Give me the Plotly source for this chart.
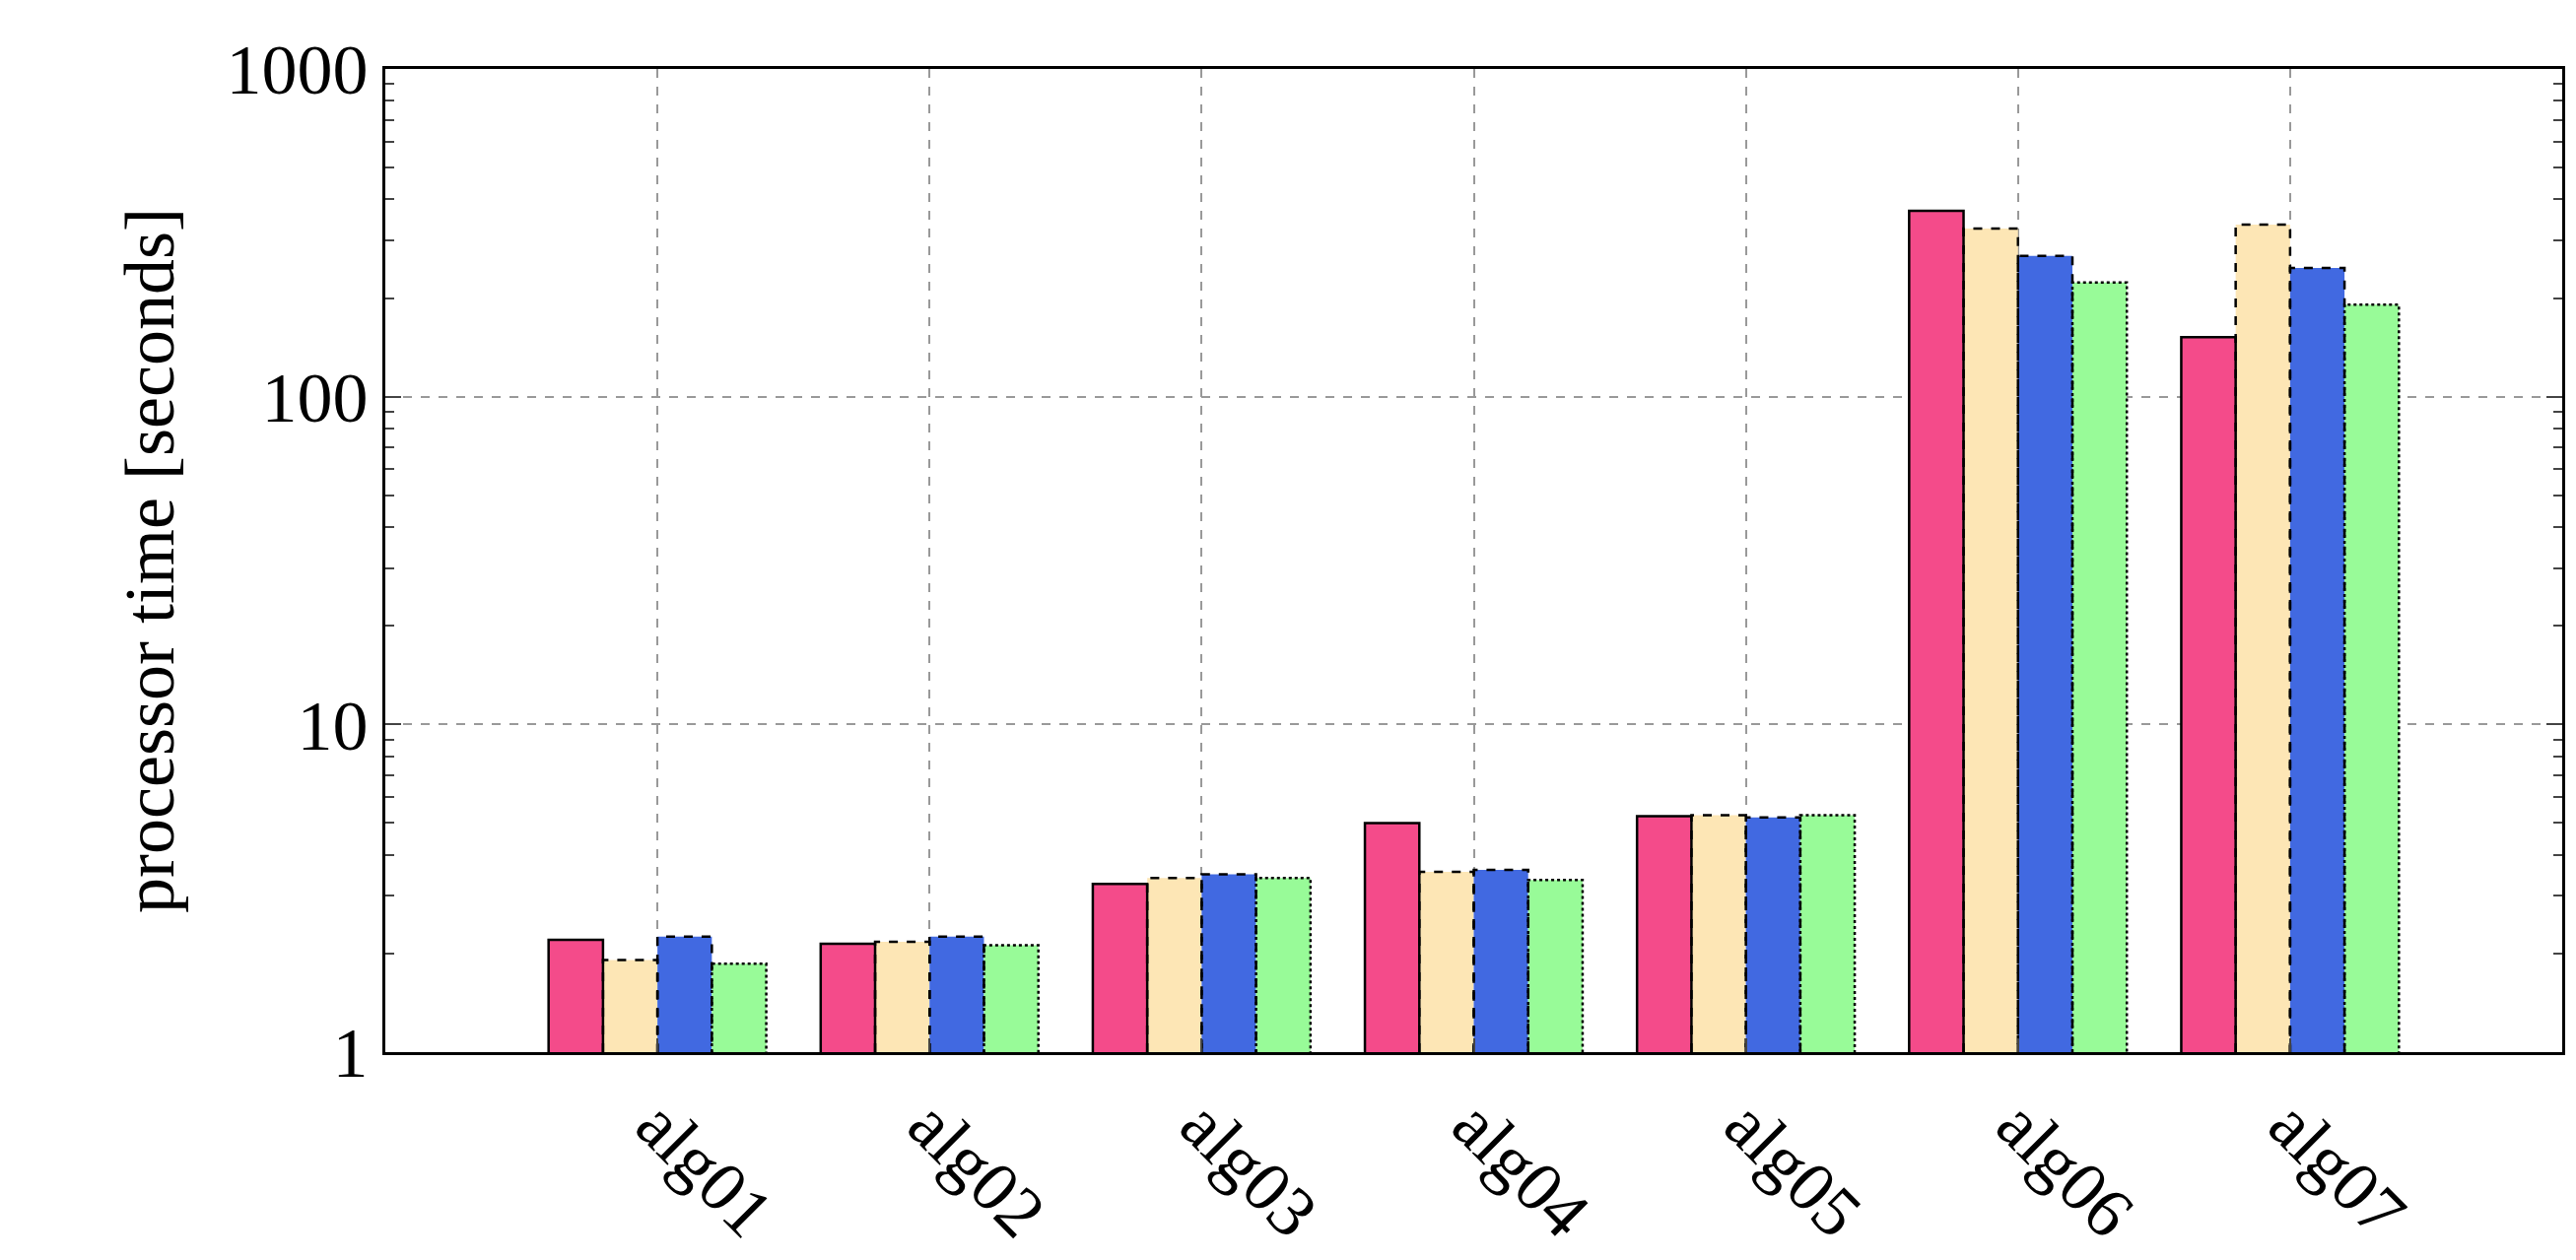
import plotly.graph_objects as go

categories = ["alg01", "alg02", "alg03", "alg04", "alg05", "alg06", "alg07"]
s1 = [2.2, 2.14, 3.26, 5.0, 5.25, 369, 152]
s2 = [1.91, 2.17, 3.4, 3.55, 5.28, 326, 335]
s3 = [2.25, 2.25, 3.49, 3.6, 5.2, 269, 247]
s4 = [1.86, 2.12, 3.4, 3.35, 5.28, 223, 191]
series = [s1, s2, s3, s4]
colors = ["#f44b8a", "#fde6b5", "#4169e1", "#98fb98"]
dashes = ["solid", "dash", "dash", "dot"]
offsets = [-0.3, -0.1, 0.1, 0.3]
w = 0.2
xs = list(range(1, len(categories) + 1))

fig = go.Figure()
for vals, c, off in zip(series, colors, offsets):
    fig.add_trace(go.Bar(x=[x + off for x in xs], y=vals, width=w, base=None,
                         marker=dict(color=c, line=dict(width=0)), showlegend=False))
for vals, d, off in zip(series, dashes, offsets):
    ox, oy = [], []
    for x, v in zip(xs, vals):
        l, r = x + off - w / 2, x + off + w / 2
        ox += [l, l, r, r, None]
        oy += [1, v, v, 1, None]
    fig.add_trace(go.Scatter(x=ox, y=oy, mode="lines", line=dict(color="black", width=2.5, dash=d),
                             showlegend=False, hoverinfo="skip"))

font = "Liberation Serif"
fig.update_layout(
    width=2614, height=1279, plot_bgcolor="white", paper_bgcolor="white",
    margin=dict(l=383, r=22, t=62, b=219), barmode="overlay",
    font=dict(family=font, size=72, color="black"),
)
fig.update_xaxes(range=[0, 8], tickvals=xs, ticktext=categories, tickangle=45,
                 showline=True, linecolor="black", linewidth=3, mirror=True,
                 showgrid=True, gridcolor="#999", griddash="dash", gridwidth=1.5,
                 ticks="inside", ticklen=14, tickwidth=2, tickfont=dict(size=72))
fig.update_yaxes(type="log", range=[0, 3], tickvals=[1, 10, 100, 1000], ticktext=["1", "10", "100", "1000"],
                 showline=True, linecolor="black", linewidth=3, mirror="allticks",
                 showgrid=True, gridcolor="#999", griddash="dash", gridwidth=1.5,
                 ticks="inside", ticklen=16, tickwidth=2, tickfont=dict(size=72),
                 minor=dict(ticks="inside", ticklen=9, tickwidth=2, dtick="D1", showgrid=False),
                 title=dict(text="processor time [seconds]", font=dict(size=72), standoff=30))
fig.write_html("out.html")
